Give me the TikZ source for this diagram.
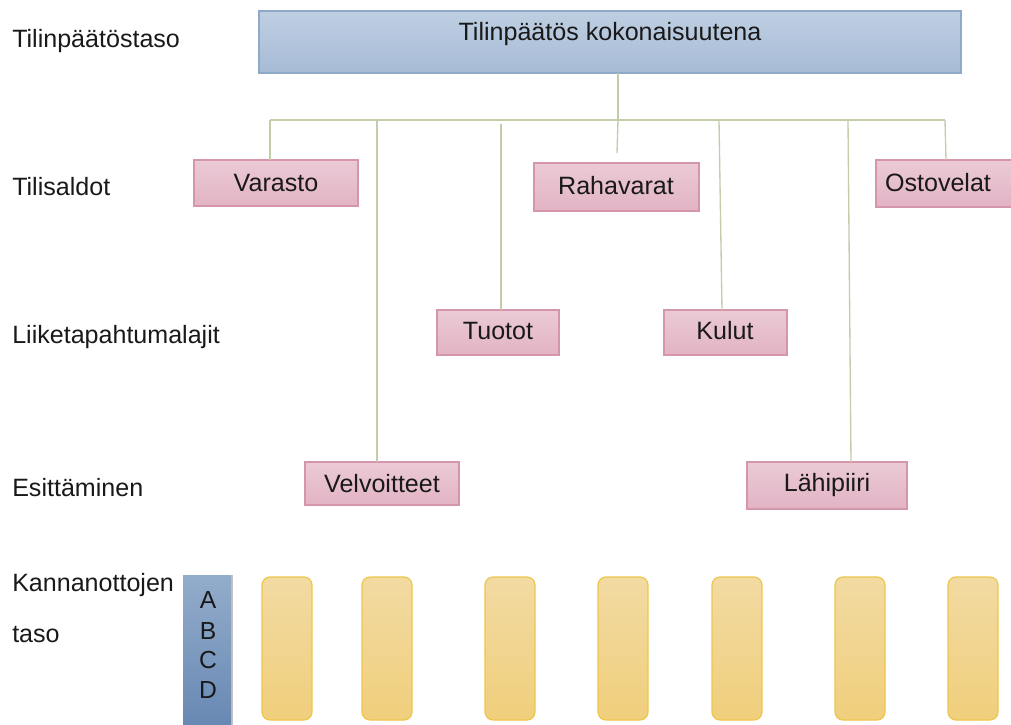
\documentclass[tikz,border=0pt]{standalone}
\usepackage{fontspec}
\setmainfont{Liberation Sans}
\usetikzlibrary{shadows}
\definecolor{topfillA}{HTML}{BFCFE2}
\definecolor{topfillB}{HTML}{A7BBD6}
\definecolor{topdraw}{HTML}{8FA9C9}
\definecolor{pinkA}{HTML}{EBCAD6}
\definecolor{pinkB}{HTML}{E2B3C4}
\definecolor{pinkdraw}{HTML}{D596AC}
\definecolor{yelA}{HTML}{F2DAA2}
\definecolor{yelB}{HTML}{F0CF7C}
\definecolor{yeldraw}{HTML}{EDC64C}
\definecolor{abcA}{HTML}{93ACCB}
\definecolor{abcB}{HTML}{6788B3}
\definecolor{linkcol}{HTML}{C2CDAA}
\tikzset{
  x=0.75pt, y=-0.75pt,
  txt/.style={font=\fontsize{18.8}{22}\selectfont, text=black!90},
  levellabel/.style={txt, anchor=west, inner sep=0pt},
  topbox/.style={draw=topdraw, line width=0.9pt, top color=topfillA, bottom color=topfillB, inner sep=0pt},
  pinkbox/.style={draw=pinkdraw, line width=0.9pt, top color=pinkA, bottom color=pinkB, inner sep=0pt},
  yelbox/.style={draw=yeldraw, line width=0.9pt, top color=yelA, bottom color=yelB, rounded corners=6pt},
  abcbox/.style={top color=abcA, bottom color=abcB, drop shadow={shadow xshift=1.5pt, shadow yshift=0pt, opacity=0.4, fill=black!60}},
  letter/.style={font=\fontsize{18.5}{22}\selectfont, text=black!90, inner sep=0pt},
  link/.style={draw=linkcol, line width=1pt},
}
\begin{document}
\begin{tikzpicture}
\useasboundingbox (0,0) rectangle (1011,725);
\begin{scope}
\clip (0,0) rectangle (1011,725);
% level labels
\node[levellabel] (l1) at (12,41) {Tilinpäätöstaso};
\node[levellabel] (l2) at (12,187) {Tilisaldot};
\node[levellabel] (l3) at (12,337) {Liiketapahtumalajit};
\node[levellabel] (l4) at (12,488) {Esittäminen};
\node[levellabel] (l5) at (12,585) {Kannanottojen};
\node[levellabel] (l6) at (12,635) {taso};

% top box
\path[topbox] (259,11) rectangle (961,73);
\node[txt] (top) at (610,34) {Tilinpäätös kokonaisuutena};
\coordinate (topb) at (618,73);

% pink boxes
\path[pinkbox] (194,160) rectangle (358,206);
\node[txt] (varasto) at (276,183) {Varasto};
\path[pinkbox] (534,163) rectangle (699,211);
\node[txt] (raha) at (616,186) {Rahavarat};
\path[pinkbox] (876,160) rectangle (1014,207);
\node[txt] (osto) at (938,183) {Ostovelat};
\path[pinkbox] (437,310) rectangle (559,355);
\node[txt] (tuotot) at (498,331) {Tuotot};
\path[pinkbox] (664,310) rectangle (787,355);
\node[txt] (kulut) at (725,331) {Kulut};
\path[pinkbox] (305,462) rectangle (459,505);
\node[txt] (velv) at (382,484) {Velvoitteet};
\path[pinkbox] (747,462) rectangle (907,509);
\node[txt] (lahi) at (827,485) {Lähipiiri};

% connectors
\coordinate (hL) at (270,120);
\coordinate (hR) at (945,120);
\coordinate (hM) at (618,120);
\draw[link] (topb) -- (hM);
\draw[link] (hL) -- (hR);
\draw[link] (hL) -- (270,160);
\draw[link] (377,120) -- (377,462);
\draw[link] (501,124) -- (501,310);
\draw[link] (hM) -- (617,153);
\draw[link] (719,120) -- (722,310);
\draw[link] (848,120) -- (851,462);
\draw[link] (hR) -- (946,160);

% ABCD box
\path[abcbox] (183,575) rectangle (231,728);
\node[letter] (lA) at (208,600) {A};
\node[letter] (lB) at (208,631) {B};
\node[letter] (lC) at (208,660) {C};
\node[letter] (lD) at (208,690) {D};

% yellow boxes
\foreach \xx/\nm in {262/y1,362/y2,485/y3,598/y4,712/y5,835/y6,948/y7}{
  \path[yelbox] (\xx,577) rectangle ++(50,143);
  \coordinate (\nm) at (\xx+25,648);
}
\end{scope}
\end{tikzpicture}
\end{document}
